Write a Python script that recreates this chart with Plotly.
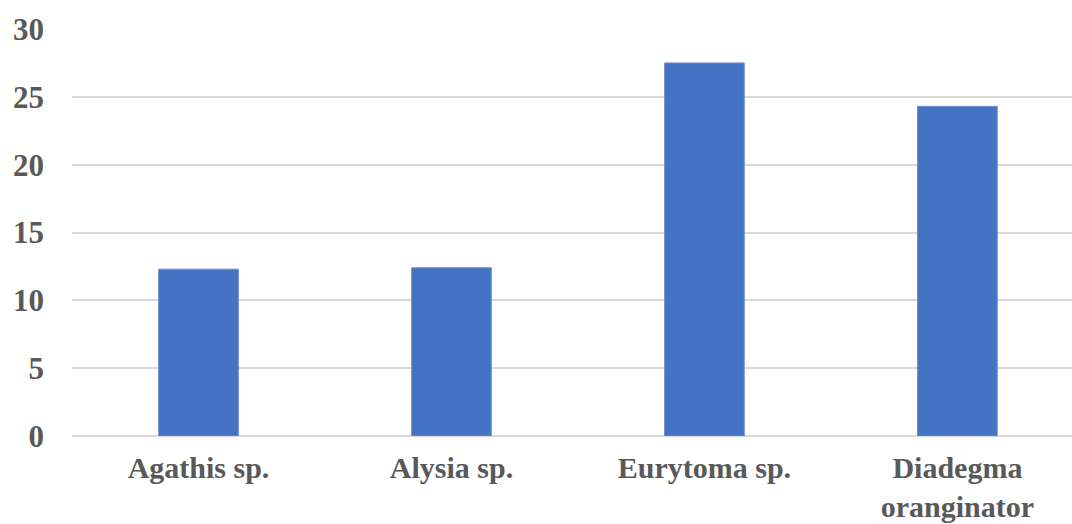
import plotly.graph_objects as go

# Parasitoid species and their values
species = ["Agathis sp.", "Alysia sp.", "Eurytoma sp.", "Diadegma<br>oranginator"]
values = [12.3, 12.4, 27.5, 24.3]
y_ticks = [0, 5, 10, 15, 20, 25, 30]

font_family = "Times New Roman, Liberation Serif, serif"
text_color = "#595959"
label_size = 31
category_size = 30

fig = go.Figure(
    go.Bar(
        x=species,
        y=values,
        width=0.315,
        marker=dict(color="#4472C4", line=dict(color="#6d8fd3", width=1)),
    )
)

fig.update_layout(
    width=1072,
    height=524,
    margin=dict(l=72, r=0, t=29, b=88),
    paper_bgcolor="white",
    plot_bgcolor="white",
    showlegend=False,
    font=dict(family=font_family, size=label_size, color=text_color),
)

fig.update_xaxes(
    range=[-0.5, 3.453],
    automargin=False,
    showgrid=False,
    showline=False,
    ticks="",
    ticklabelstandoff=11,
    tickfont=dict(family=font_family, size=category_size, color=text_color, weight="bold"),
)

fig.update_yaxes(
    range=[0, 30],
    automargin=False,
    tickvals=y_ticks,
    showgrid=True,
    gridcolor="#d9d9d9",
    gridwidth=2,
    zeroline=True,
    zerolinecolor="#d9d9d9",
    zerolinewidth=2,
    showline=False,
    ticks="",
    ticklabelstandoff=27,
    tickfont=dict(family=font_family, size=label_size, color=text_color, weight="bold"),
)

fig.write_html("out.html")
